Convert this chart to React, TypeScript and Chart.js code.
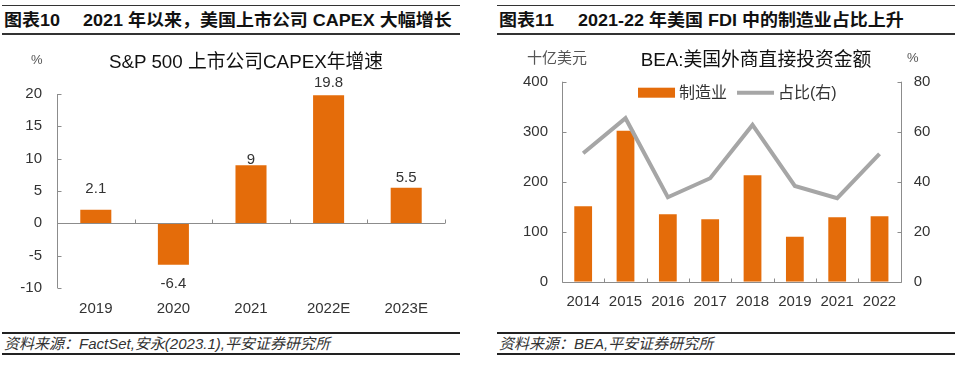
import React, { useEffect, useRef } from "react";
import { Chart, registerables } from "chart.js";

Chart.register(...registerables);

// ---------- data ----------
const capexYears = ["2019", "2020", "2021", "2022E", "2023E"];
const capexGrowth = [2.1, -6.4, 9, 19.8, 5.5];

const fdiYears = ["2014", "2015", "2016", "2017", "2018", "2019", "2021", "2022"];
const fdiManufacturing = [151, 302, 135, 125, 213, 90, 129, 131];
const fdiShare = [51.4, 65.4, 33.8, 41.4, 62.7, 38.3, 33.4, 51.1];

const fdiSeriesNames = ["制造业", "占比(右)"];

// ---------- style ----------
const ORANGE = "#E46C0A";
const GRAY_LINE = "#A6A6A6";
const AXIS = "#8C8C8C";
const TEXT = "#333333";
const FONT = '"Liberation Sans", Arial, "Noto Sans CJK SC", sans-serif';
// label distance from the bar end (px), per bar
const capexLabelGap = [21, 19, 5, 12, 10];

const capexAxesPlugin = {
  id: "capexAxes",
  afterDatasetsDraw(chart: any) {
    const { ctx, chartArea: a, scales } = chart;
    const x = scales.x;
    const y = scales.y;
    ctx.save();
    ctx.strokeStyle = AXIS;
    ctx.lineWidth = 1;
    ctx.beginPath();
    const X = Math.round(a.left) + 0.5;
    ctx.moveTo(X, a.top);
    ctx.lineTo(X, a.bottom);
    y.ticks.forEach((t: any) => {
      const py = Math.round(y.getPixelForValue(t.value)) + 0.5;
      ctx.moveTo(X, py);
      ctx.lineTo(X + 4, py);
    });
    const y0 = Math.round(y.getPixelForValue(0)) + 0.5;
    ctx.moveTo(a.left, y0);
    ctx.lineTo(a.right, y0);
    for (let i = 0; i < capexYears.length; i++) {
      const bx = Math.round(x.getPixelForValue(i + 0.5)) + 0.5;
      ctx.moveTo(bx, y0);
      ctx.lineTo(bx, y0 - 4);
    }
    ctx.stroke();

    // value labels
    const meta = chart.getDatasetMeta(0);
    ctx.fillStyle = TEXT;
    ctx.font = `15px ${FONT}`;
    ctx.textAlign = "center";
    ctx.textBaseline = "middle";
    meta.data.forEach((bar: any, i: number) => {
      const v = capexGrowth[i];
      const gap = capexLabelGap[i];
      const ty = v >= 0 ? bar.y - gap : bar.y + gap;
      ctx.fillText(String(v), bar.x, ty);
    });
    ctx.restore();
  },
};

const fdiAxesPlugin = {
  id: "fdiAxes",
  afterDatasetsDraw(chart: any) {
    const { ctx, chartArea: a, scales } = chart;
    const x = scales.x;
    const y = scales.y;
    const y1 = scales.y1;
    ctx.save();
    ctx.strokeStyle = AXIS;
    ctx.lineWidth = 1;
    ctx.beginPath();
    const L = Math.round(a.left) + 0.5;
    const R = Math.round(a.right) + 0.5;
    const B = Math.round(a.bottom) + 0.5;
    ctx.moveTo(L, a.top);
    ctx.lineTo(L, B);
    ctx.lineTo(R, B);
    ctx.lineTo(R, a.top);
    y.ticks.forEach((t: any) => {
      const py = Math.round(y.getPixelForValue(t.value)) + 0.5;
      ctx.moveTo(L, py);
      ctx.lineTo(L + 4, py);
    });
    y1.ticks.forEach((t: any) => {
      const py = Math.round(y1.getPixelForValue(t.value)) + 0.5;
      ctx.moveTo(R, py);
      ctx.lineTo(R - 4, py);
    });
    for (let i = 0; i < fdiYears.length - 1; i++) {
      const bx = Math.round(x.getPixelForValue(i + 0.5)) + 0.5;
      ctx.moveTo(bx, B);
      ctx.lineTo(bx, B - 4);
    }
    ctx.stroke();

    // legend (drawn inside the plot, near the top)
    const boxW = 37;
    const gapText = 4;
    const gapItem = 10;
    ctx.font = `16px ${FONT}`;
    const w0 = ctx.measureText(fdiSeriesNames[0]).width;
    const w1 = ctx.measureText(fdiSeriesNames[1]).width;
    const total = boxW + gapText + w0 + gapItem + boxW + gapText + w1;
    const cx = (a.left + a.right) / 2 + 6;
    let lx = cx - total / 2;
    const ly = a.top + 11;
    ctx.fillStyle = ORANGE;
    ctx.fillRect(lx, ly - 5, boxW, 10);
    lx += boxW + gapText;
    ctx.fillStyle = TEXT;
    ctx.textAlign = "left";
    ctx.textBaseline = "middle";
    ctx.fillText(fdiSeriesNames[0], lx, ly + 1);
    lx += w0 + gapItem;
    ctx.strokeStyle = GRAY_LINE;
    ctx.lineWidth = 4;
    ctx.beginPath();
    ctx.moveTo(lx, ly);
    ctx.lineTo(lx + boxW, ly);
    ctx.stroke();
    lx += boxW + gapText;
    ctx.fillText(fdiSeriesNames[1], lx, ly + 1);
    ctx.restore();
  },
};

function CapexChart() {
  const ref = useRef<HTMLCanvasElement>(null);
  useEffect(() => {
    const chart = new Chart(ref.current as HTMLCanvasElement, {
      type: "bar",
      data: {
        labels: capexYears,
        datasets: [
          {
            data: capexGrowth,
            backgroundColor: ORANGE,
            borderWidth: 0,
            categoryPercentage: 1,
            barPercentage: 0.4,
          },
        ],
      },
      options: {
        animation: false,
        responsive: false,
        maintainAspectRatio: false,
        layout: { padding: { left: 0, right: 25, top: 54, bottom: 0 } },
        plugins: { legend: { display: false }, tooltip: { enabled: false } },
        scales: {
          x: {
            grid: { display: false, drawTicks: false },
            border: { display: false },
            ticks: { font: { family: FONT, size: 15 }, color: TEXT, padding: 12 },
            afterFit(s: any) {
              s.height = 37;
            },
          },
          y: {
            min: -10,
            max: 20,
            grid: { display: false, drawTicks: false },
            border: { display: false },
            ticks: { stepSize: 5, font: { family: FONT, size: 15 }, color: TEXT, padding: 15 },
            afterFit(s: any) {
              s.width = 57;
            },
          },
        },
      } as any,
      plugins: [capexAxesPlugin],
    });
    return () => chart.destroy();
  }, []);
  return <canvas ref={ref} width={470} height={285} style={{ position: "absolute", left: 0, top: 40 }} />;
}

function FdiChart() {
  const ref = useRef<HTMLCanvasElement>(null);
  useEffect(() => {
    const chart = new Chart(ref.current as HTMLCanvasElement, {
      type: "bar",
      data: {
        labels: fdiYears,
        datasets: [
          {
            type: "bar",
            label: fdiSeriesNames[0],
            data: fdiManufacturing,
            backgroundColor: ORANGE,
            borderWidth: 0,
            categoryPercentage: 1,
            barPercentage: 0.42,
            yAxisID: "y",
            order: 1,
          },
          {
            type: "line",
            label: fdiSeriesNames[1],
            data: fdiShare,
            borderColor: GRAY_LINE,
            backgroundColor: GRAY_LINE,
            borderWidth: 4,
            pointRadius: 0,
            tension: 0,
            yAxisID: "y1",
            order: 0,
          },
        ],
      },
      options: {
        animation: false,
        responsive: false,
        maintainAspectRatio: false,
        layout: { padding: { left: 0, right: 0, top: 41.7, bottom: 0 } },
        plugins: { tooltip: { enabled: false }, legend: { display: false } },
        scales: {
          x: {
            grid: { display: false, drawTicks: false },
            border: { display: false },
            ticks: { font: { family: FONT, size: 15 }, color: TEXT, padding: 11 },
            afterFit(s: any) {
              s.height = 43.3;
            },
          },
          y: {
            position: "left",
            min: 0,
            max: 400,
            grid: { display: false, drawTicks: false },
            border: { display: false },
            ticks: { stepSize: 100, font: { family: FONT, size: 15 }, color: TEXT, padding: 14 },
            afterFit(s: any) {
              s.width = 82;
            },
          },
          y1: {
            position: "right",
            min: 0,
            max: 80,
            grid: { display: false, drawTicks: false },
            border: { display: false },
            ticks: { stepSize: 20, font: { family: FONT, size: 15 }, color: TEXT, padding: 13 },
            afterFit(s: any) {
              s.width = 59.3;
            },
          },
        },
      } as any,
      plugins: [fdiAxesPlugin],
    });
    return () => chart.destroy();
  }, []);
  return <canvas ref={ref} width={480} height={285} style={{ position: "absolute", left: 480, top: 40 }} />;
}

const abs = (extra: React.CSSProperties): React.CSSProperties => ({
  position: "absolute",
  whiteSpace: "nowrap",
  fontFamily: FONT,
  ...extra,
});

const headerText: React.CSSProperties = {
  top: 4,
  fontSize: 16.5,
  fontWeight: "bold",
  color: "#111",
  lineHeight: "20px",
  transform: "scaleX(1.09)",
  transformOrigin: "0 50%",
};

function Header({ left, num, text, textLeft }: { left: number; num: string; text: string; textLeft: number }) {
  return (
    <div
      style={abs({
        left,
        top: 5,
        width: 458,
        height: 27,
        borderTop: "1.5px solid #333",
        borderBottom: "2px solid #333",
        boxSizing: "content-box",
      })}
    >
      <span style={abs({ left: 2, ...headerText })}>{num}</span>
      <span style={abs({ left: textLeft, ...headerText })}>{text}</span>
    </div>
  );
}

function Footer({ left, text }: { left: number; text: string }) {
  return (
    <div
      style={abs({
        left,
        top: 332,
        width: 458,
        height: 19,
        borderTop: "2px solid #222",
        borderBottom: "2px solid #222",
        boxSizing: "content-box",
      })}
    >
      <span style={abs({ left: 2, top: 1, fontSize: 15, fontStyle: "italic", color: "#333", lineHeight: "18px" })}>{text}</span>
    </div>
  );
}

function Centered({ cx, top, size, text, color }: { cx: number; top: number; size: number; text: string; color: string }) {
  return (
    <div style={abs({ left: cx, top, fontSize: size, color, lineHeight: "22px", transform: "translateX(-50%)" })}>{text}</div>
  );
}

export default function App() {
  return (
    <div style={{ position: "fixed", left: 0, top: 0, width: 960, height: 365, background: "#fff", overflow: "hidden" }}>
      <Header left={2} num="图表10" text="2021 年以来，美国上市公司 CAPEX 大幅增长" textLeft={81} />
      <Header left={497} num="图表11" text="2021-22 年美国 FDI 中的制造业占比上升" textLeft={81} />

      <CapexChart />
      <FdiChart />

      <div style={abs({ left: 31, top: 51, fontSize: 13, color: "#555", lineHeight: "18px" })}>%</div>
      <Centered cx={246} top={51} size={18.8} text="S&P 500 上市公司CAPEX年增速" color="#111" />

      <div style={abs({ left: 527, top: 49, fontSize: 15, color: "#555", lineHeight: "18px" })}>十亿美元</div>
      <Centered cx={756} top={49} size={18.8} text="BEA:美国外商直接投资金额" color="#111" />
      <div style={abs({ left: 907, top: 49, fontSize: 13, color: "#555", lineHeight: "18px" })}>%</div>

      <Footer left={2} text="资料来源：FactSet,安永(2023.1),平安证券研究所" />
      <Footer left={497} text="资料来源：BEA,平安证券研究所" />
    </div>
  );
}
